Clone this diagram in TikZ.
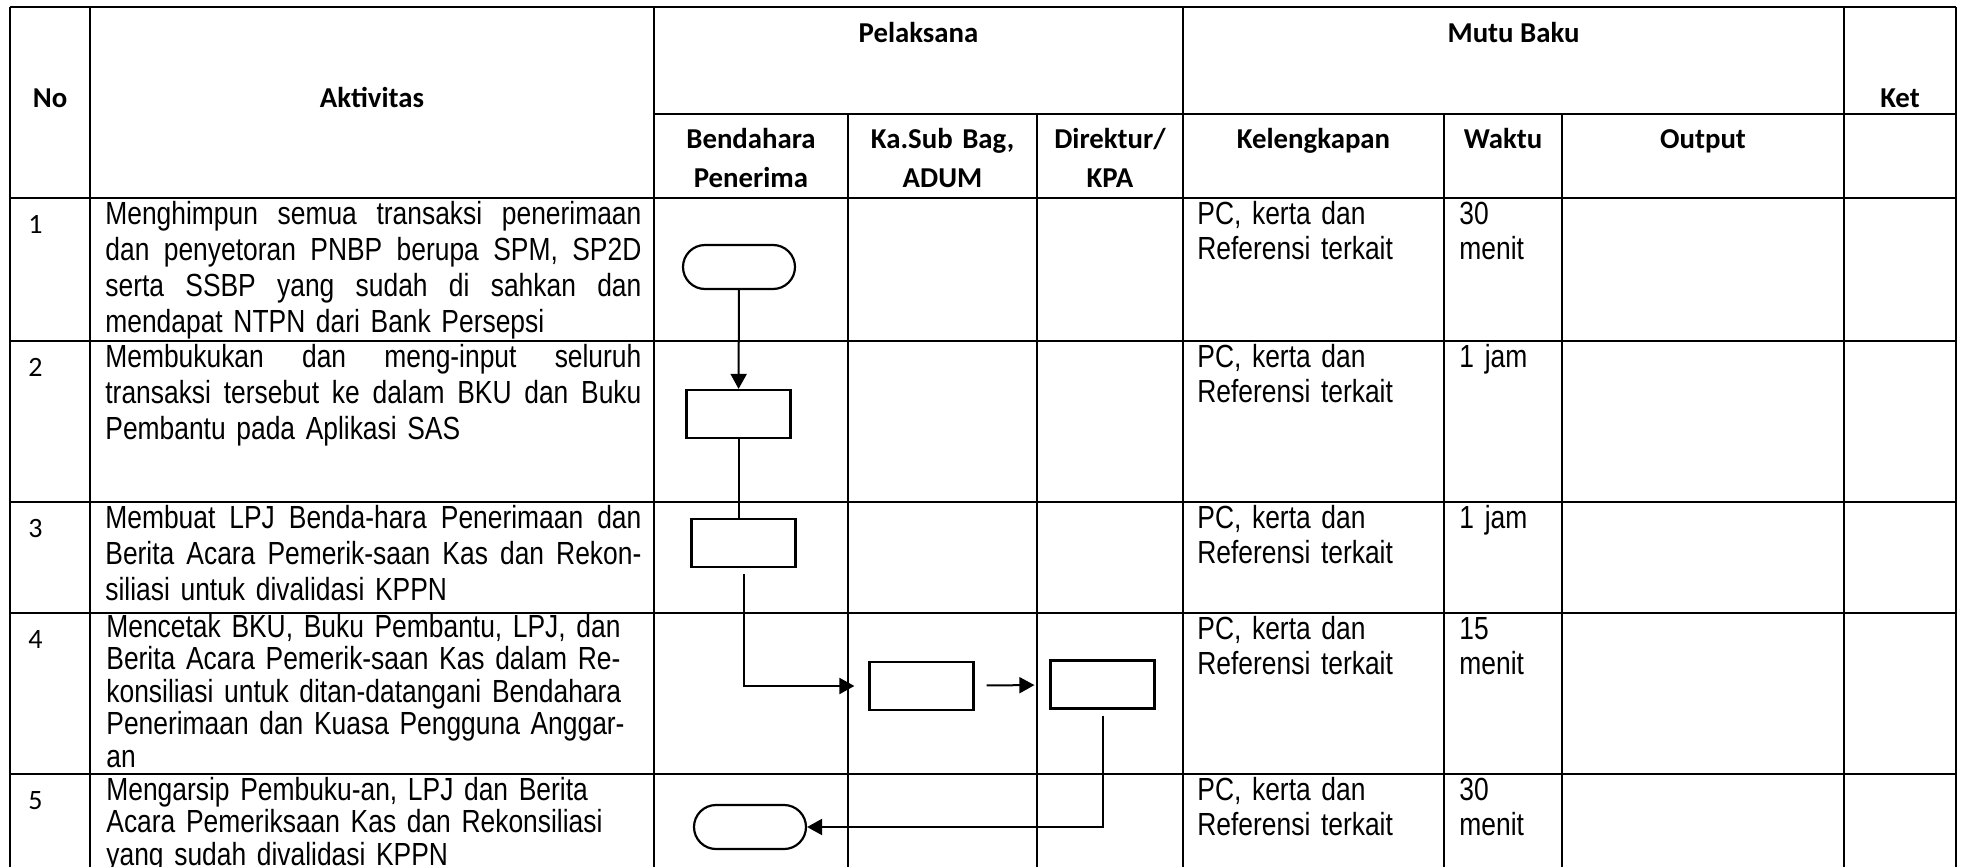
\documentclass[tikz,border=0pt]{standalone}
\usepackage{fontspec}
\usepackage{tikz}
\usetikzlibrary{arrows.meta,shapes.misc}

\newfontfamily\isifont{Liberation Sans}[FakeStretch=0.825]
\newfontfamily\kepalafont{Carlito}
\newcommand{\rata}[1]{\makebox[268pt][s]{\spaceskip=\fontdimen2\font plus 1fil\relax #1}}

\begin{document}
\begin{tikzpicture}[x=0.5pt, y=-0.5pt,
    garis/.style={line width=0.8pt},
    kepala/.style={font=\kepalafont\bfseries\fontsize{14.4pt}{20pt}\selectfont, inner sep=0pt, anchor=base, align=center},
    nomor/.style={font=\kepalafont\fontsize{14pt}{17pt}\selectfont, inner sep=0pt, anchor=base west},
    isi/.style={font=\isifont\fontsize{16pt}{18pt}\selectfont, inner sep=0pt, anchor=base west, text width=270pt, align=left},
    rapat/.style={isi, font=\isifont\fontsize{16pt}{16.25pt}\selectfont},
    mutu/.style={font=\isifont\fontsize{16pt}{17.5pt}\selectfont, inner sep=0pt, anchor=base west, text width=110pt, align=left},
    proses/.style={draw, line width=1.1pt, minimum width=52pt, minimum height=24pt, inner sep=0pt},
    terminal/.style={draw, line width=1.1pt, rounded rectangle, minimum width=56pt, minimum height=22pt, inner sep=0pt},
    panah/.style={line width=1pt, -{Triangle[length=7.5pt,width=8pt]}}]
  \useasboundingbox (0,0) rectangle (1966,867);

  % garis tabel
  \draw[garis] (10,7) -- (1956,7) (654,114) -- (1956,114);
  \draw[garis] (10,198) -- (1956,198) (10,341) -- (1956,341) (10,502) -- (1956,502)
    (10,613) -- (1956,613) (10,774) -- (1956,774);
  \draw[garis] (10,7) -- (10,867) (90,7) -- (90,867) (654,7) -- (654,867)
    (1183,7) -- (1183,867) (1844,7) -- (1844,867) (1956,7) -- (1956,867);
  \draw[garis] (848,114) -- (848,867) (1037,114) -- (1037,867)
    (1444,114) -- (1444,867) (1562,114) -- (1562,867);

  % kepala tabel
  \node[kepala] (no) at (50,107) {No};
  \node[kepala] (aktivitas) at (372,107) {Aktivitas};
  \node[kepala] (pelaksana) at (918.5,42) {Pelaksana};
  \node[kepala] (mutubaku) at (1513.5,42) {Mutu Baku};
  \node[kepala] (ket) at (1900,107) {Ket};
  \node[kepala, text width=90pt] (bendahara) at (751,148) {Bendahara\\Penerima};
  \node[kepala, text width=90pt] (kasubbag) at (942.5,148) {Ka.Sub Bag,\\ADUM};
  \node[kepala, text width=70pt] (direktur) at (1110,148) {Direktur/\\KPA};
  \node[kepala] (kelengkapan) at (1313.5,148) {Kelengkapan};
  \node[kepala] (waktu) at (1503,148) {Waktu};
  \node[kepala] (output) at (1703,148) {Output};

  % nomor
  \node[nomor] (no1) at (28,233) {1};
  \node[nomor] (no2) at (28,376) {2};
  \node[nomor] (no3) at (28,537) {3};
  \node[nomor] (no4) at (28,648) {4};
  \node[nomor] (no5) at (28,809) {5};

  % aktivitas
  \node[isi] (akt1) at (105,224) {\rata{Menghimpun semua transaksi penerimaan}\\
    \rata{dan penyetoran PNBP berupa SPM, SP2D}\\
    \rata{serta SSBP yang sudah di sahkan dan}\\
    mendapat NTPN dari Bank Persepsi};
  \node[isi] (akt2) at (105,367) {\rata{Membukukan dan meng-input seluruh}\\
    \rata{transaksi tersebut ke dalam BKU dan Buku}\\
    Pembantu pada Aplikasi SAS};
  \node[isi] (akt3) at (105,528) {\rata{Membuat LPJ Benda-hara Penerimaan dan}\\
    \rata{Berita Acara Pemerik-saan Kas dan Rekon-}\\
    siliasi untuk divalidasi KPPN};
  \node[rapat] (akt4) at (106,637) {Mencetak BKU, Buku Pembantu, LPJ, dan\\
    Berita Acara Pemerik-saan Kas dalam Re-\\
    konsiliasi untuk ditan-datangani Bendahara\\
    Penerimaan dan Kuasa Pengguna Anggar-\\
    an};
  \node[rapat] (akt5) at (106,800) {Mengarsip Pembuku-an, LPJ dan Berita\\
    Acara Pemeriksaan Kas dan Rekonsiliasi\\
    yang sudah divalidasi KPPN};

  % kelengkapan dan waktu
  \node[mutu] (lengkap1) at (1197,224) {PC, kerta dan\\Referensi terkait};
  \node[mutu] (lengkap2) at (1197,367) {PC, kerta dan\\Referensi terkait};
  \node[mutu] (lengkap3) at (1197,528) {PC, kerta dan\\Referensi terkait};
  \node[mutu] (lengkap4) at (1197,639) {PC, kerta dan\\Referensi terkait};
  \node[mutu] (lengkap5) at (1197,800) {PC, kerta dan\\Referensi terkait};
  \node[mutu] (waktu1) at (1459,224) {30\\menit};
  \node[mutu] (waktu2) at (1459,367) {1 jam};
  \node[mutu] (waktu3) at (1459,528) {1 jam};
  \node[mutu] (waktu4) at (1459,639) {15\\menit};
  \node[mutu] (waktu5) at (1459,800) {30\\menit};

  % alur
  \node[terminal] (mulai) at (739,267) {};
  \node[proses] (proses1) at (738.5,414) {};
  \node[proses] (proses2) at (743.5,543) {};
  \node[proses] (proses3) at (921.5,686) {};
  \node[proses] (proses4) at (1102.5,684.5) {};
  \node[terminal] (selesai) at (750,827) {};
  \draw[panah] (mulai) -- (proses1);
  \draw[line width=1pt] (proses1.south) -- (proses1.south |- proses2.north);
  \draw[panah, shorten <=3pt, shorten >=7pt] (proses2.south) |- (proses3.west);
  \draw[panah, shorten <=6pt, shorten >=7.5pt] (proses3) -- (proses4);
  \draw[panah, shorten <=3pt] (proses4.south) |- (selesai.east);
\end{tikzpicture}
\end{document}
